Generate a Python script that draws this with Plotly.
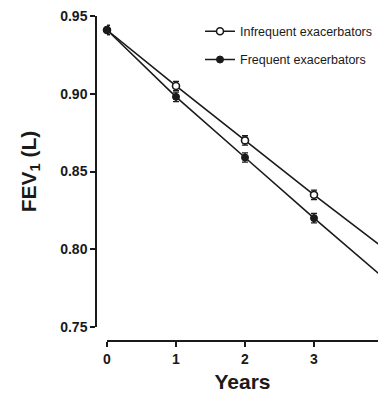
import plotly.graph_objects as go

years = [0, 1, 2, 3, 4]
infrequent = [0.941, 0.905, 0.870, 0.835, 0.801]
infrequent_err = [0.003, 0.003, 0.003, 0.003, 0.003]
frequent = [0.941, 0.898, 0.859, 0.820, 0.782]
frequent_err = [0.003, 0.003, 0.003, 0.003, 0.003]
y_ticks = [0.75, 0.80, 0.85, 0.90, 0.95]
y_labels = ["0.75", "0.80", "0.85", "0.90", "0.95"]
x_ticks = [0, 1, 2, 3, 4]

ink = "#1a1a1a"
W, H = 378, 395
ml, mr, mt, mb = 96, 0, 16, 54
pw, ph = W - ml - mr, H - mt - mb

fig = go.Figure()
fig.add_trace(go.Scatter(
    x=years, y=infrequent, name="Infrequent exacerbators", legendgroup="a",
    mode="lines+markers", cliponaxis=False,
    line=dict(color=ink, width=1.6),
    marker=dict(symbol="circle", size=7, color="white", line=dict(color=ink, width=1.6)),
    error_y=dict(type="data", array=infrequent_err, color=ink, thickness=1.3, width=3),
))
fig.add_trace(go.Scatter(
    x=years, y=frequent, name="Frequent exacerbators", legendgroup="b",
    mode="lines+markers", cliponaxis=False,
    line=dict(color=ink, width=1.6),
    marker=dict(symbol="circle", size=7, color=ink, line=dict(color=ink, width=1)),
    error_y=dict(type="data", array=frequent_err, color=ink, thickness=1.3, width=3),
))

fig.update_layout(
    width=W, height=H,
    margin=dict(l=ml, r=mr, t=mt, b=mb),
    paper_bgcolor="white", plot_bgcolor="white",
    font=dict(family="Liberation Sans, Arial, sans-serif", color=ink),
    showlegend=True,
    legend=dict(x=1.0, y=0.998, xanchor="right", yanchor="top",
                font=dict(size=12.5, color=ink), bgcolor="rgba(0,0,0,0)",
                itemwidth=30, tracegroupgap=9, traceorder="grouped"),
    xaxis=dict(
        domain=[11 / pw, 1], range=[0, (W - 107) / 69.0],
        anchor="free", position=0,
        showline=True, linecolor=ink, linewidth=1.5,
        ticks="outside", ticklen=5, tickwidth=1.5, tickcolor=ink,
        tickvals=x_ticks, ticktext=[str(v) for v in x_ticks],
        tickfont=dict(size=14, family="Liberation Sans, Arial", weight="bold"),
        showgrid=False, zeroline=False,
        title=dict(text="<b>Years</b>", font=dict(size=21), standoff=8),
        automargin=False,
    ),
    yaxis=dict(
        domain=[(341 - 327) / ph, 1], range=[0.75, 0.95],
        anchor="free", position=0,
        showline=True, linecolor=ink, linewidth=1.5,
        ticks="outside", ticklen=5, tickwidth=1.5, tickcolor=ink,
        tickvals=y_ticks, ticktext=y_labels,
        tickfont=dict(size=14, family="Liberation Sans, Arial", weight="bold"),
        showgrid=False, zeroline=False,
        title=dict(text="<b>FEV<sub>1</sub> (L)</b>", font=dict(size=21), standoff=17),
        automargin=False,
    ),
)

fig.write_html("out.html")
